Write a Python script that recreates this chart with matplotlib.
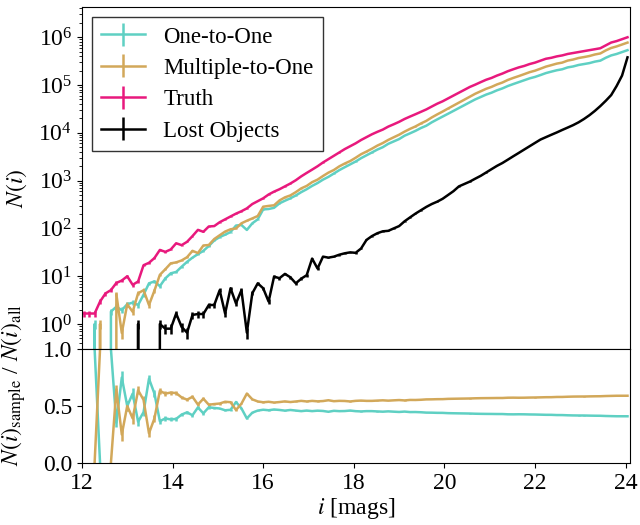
"""Number counts of matched / truth / lost objects vs i-band magnitude, with match fractions."""

import matplotlib
matplotlib.use("Agg")
import matplotlib.pyplot as plt
import numpy as np

plt.rcParams["font.family"] = ["Liberation Serif", "DejaVu Serif"]
plt.rcParams["mathtext.fontset"] = "stix"
plt.rcParams["font.size"] = 17

# bin centres [mags]
mag_start, mag_step, n_bins = 12.04, 0.12, 101
mags = mag_start + mag_step * np.arange(n_bins)

truth = [
    1.66, 1.66, 1.66, 2.95, 4.37, 5.13, 7.24, 8.13, 10.0, 6.61,
    7.76, 17.0, 19.1, 24.0, 35.5, 32.4, 36.3, 49.0, 44.7, 52.5,
    69.2, 93.3, 85.1, 110, 112, 135, 155, 178, 204, 229,
    263, 324, 372, 427, 513, 589, 661, 759, 871, 1020,
    1230, 1450, 1700, 2000, 2400, 2820, 3310, 3890, 4570, 5250,
    6030, 7080, 8130, 9330, 10500, 11700, 13500, 15100, 17000, 19500,
    21900, 24500, 27500, 30900, 35500, 40700, 45700, 52500, 60300, 69200,
    79400, 91200, 102000, 115000, 129000, 141000, 158000, 174000, 195000, 214000,
    234000, 251000, 275000, 295000, 324000, 355000, 372000, 398000, 417000, 447000,
    468000, 490000, 513000, 537000, 562000, 589000, 676000, 776000, 832000, 912000,
    1000000,
]
one_to_one = [
    0, 0, 1.0, 0, 0, 1.82, 2.3, 1.95, 2.6, 2.8,
    2.5, 4.1, 7.1, 7.8, 6.2, 9.0, 11.5, 12.3, 15.8, 20.0,
    24.5, 29.0, 34.0, 43.0, 56.0, 66.0, 74.0, 84.0, 115, 118,
    93, 128, 155, 250, 255, 270, 335, 380, 427, 490,
    575, 661, 776, 891, 1050, 1200, 1410, 1660, 1910, 2190,
    2510, 2950, 3390, 3890, 4470, 5010, 5890, 6610, 7410, 8710,
    9770, 11000, 12600, 14100, 16600, 19100, 21900, 25100, 28800, 33100,
    38000, 43700, 50100, 56200, 63100, 69200, 77600, 85100, 95500, 105000,
    115000, 126000, 138000, 148000, 162000, 178000, 191000, 204000, 214000, 234000,
    245000, 263000, 275000, 288000, 309000, 324000, 372000, 417000, 447000, 490000,
    537000,
]
multiple_to_one = [
    0, 0, 0, 1.0, 0, 0, 4.2, 0.65, 2.6, 1.8,
    4.4, 5.1, 2.5, 5.0, 10.7, 14.0, 18.6, 19.5, 21.4, 25.0,
    34.0, 30.5, 44.0, 45.0, 60.0, 72.0, 86.0, 96.0, 100, 128,
    145, 162, 182, 285, 296, 305, 385, 447, 491, 575,
    689, 776, 929, 1050, 1250, 1470, 1670, 1990, 2280, 2570,
    3010, 3570, 4060, 4660, 5410, 6120, 7110, 8070, 9140, 10600,
    12100, 13600, 15700, 17800, 21000, 24300, 27900, 32300, 37200, 42900,
    49400, 57000, 65800, 74100, 83400, 91600, 103000, 113000, 128000, 141000,
    154000, 169000, 186000, 200000, 220000, 243000, 261000, 281000, 295000, 325000,
    342000, 368000, 385000, 405000, 436000, 458000, 530000, 597000, 643000, 705000,
    773000,
]
lost = [
    0, 0, 0, 0, 0, 0, 0, 0, 0, 0,
    1.0, 0, 0, 0, 1.0, 0.8, 0.8, 1.66, 0.87, 0.66,
    1.55, 1.62, 1.62, 2.5, 2.5, 5.1, 1.66, 5.6, 2.7, 5.1,
    0.66, 4.4, 7.1, 5.6, 2.95, 9.8, 9.1, 11.2, 9.5, 7.1,
    8.9, 10.5, 23.4, 14.5, 25.7, 24.5, 25.7, 28.2, 30.2, 31.6,
    30.9, 38.0, 57.5, 69.2, 79.4, 87.1, 89.1, 100, 112, 141,
    170, 204, 240, 282, 324, 363, 417, 501, 603, 759,
    851, 955, 1100, 1260, 1480, 1740, 2040, 2340, 2750, 3240,
    3800, 4470, 5250, 6170, 7240, 8130, 9120, 10200, 11500, 12900,
    14500, 16600, 19500, 23400, 28800, 36300, 46800, 61700, 95500, 158000,
    380000,
]

labels = ["One-to-One", "Multiple-to-One", "Truth", "Lost Objects"]
colors = ["#5fd0c3", "#d2a85a", "#e8197d", "black"]

# counts are weighted, so the Poisson bars scale with this per-object weight
count_weight = 0.04


def main() -> None:
    series = [np.array(s, dtype=float) for s in (one_to_one, multiple_to_one, truth, lost)]

    fig = plt.figure(figsize=(6.4, 5.25), dpi=100)
    ax_top = fig.add_axes([0.128, 0.3352, 0.856, 0.6515])
    ax_bot = fig.add_axes([0.128, 0.1181, 0.856, 0.2171], sharex=ax_top)

    for n, lab, c in zip(series, labels, colors):
        ax_top.errorbar(mags, n, yerr=np.sqrt(n * count_weight), color=c, lw=1.8,
                        elinewidth=1.8, capsize=0, label=lab)

    ax_top.set_yscale("log")
    ax_top.set_ylim(0.30, 4.3e6)
    ax_top.set_xlim(12, 24.09)
    ax_top.set_ylabel("$N(i)$")
    ax_top.yaxis.set_label_coords(-0.097, 0.47)
    ax_top.tick_params(axis="x", bottom=False, labelbottom=False)
    leg = ax_top.legend(loc="upper left", fancybox=False, framealpha=1,
                        edgecolor="#333333", fontsize=16.5, borderaxespad=0.45,
                        borderpad=0.4, handlelength=1.9, labelspacing=0.45)
    leg.get_frame().set_linewidth(1.0)

    n_all = series[0] + series[1]
    with np.errstate(divide="ignore", invalid="ignore"):
        for n, c in zip(series[:2], colors[:2]):
            frac = np.where(n_all > 0, n / n_all, np.nan)
            err = np.sqrt(frac * (1 - frac) * count_weight / n_all)
            ax_bot.errorbar(mags, frac, yerr=err, color=c, lw=1.8, elinewidth=1.8, capsize=0)

    ax_bot.set_ylim(0, 1)
    ax_bot.set_yticks([0.0, 0.5, 1.0])
    ax_bot.set_xticks([12, 14, 16, 18, 20, 22, 24])
    ax_bot.set_xlabel("$i$ [mags]", labelpad=2)
    ax_bot.set_ylabel(r"$N(i)_{\rm sample}$ / $N(i)_{\rm all}$")
    ax_bot.yaxis.set_label_coords(-0.099, 0.68)

    fig.savefig("out.png", dpi=100)


if __name__ == "__main__":
    main()
